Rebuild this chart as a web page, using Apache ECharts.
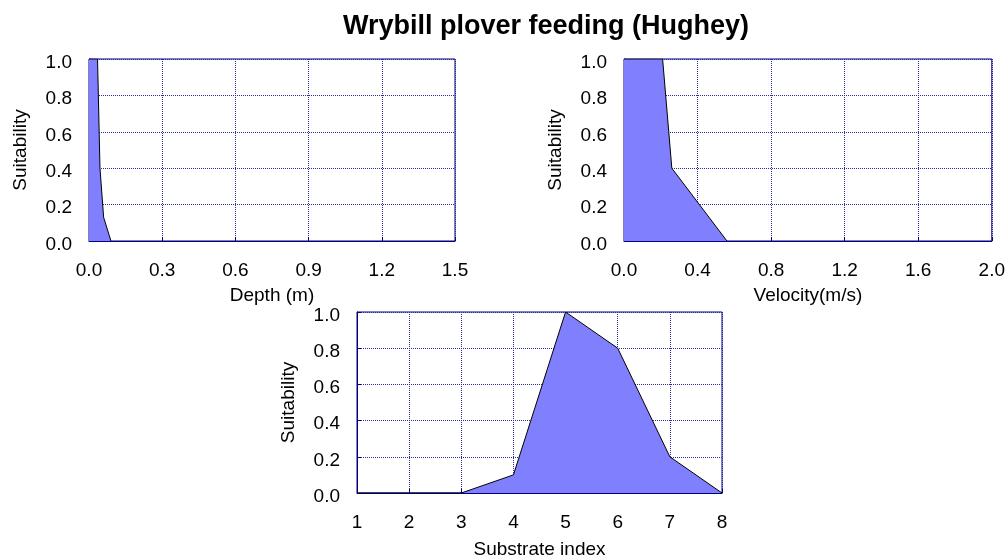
<!DOCTYPE html>
<html>
<head>
<meta charset="utf-8">
<script src="https://cdn.jsdelivr.net/npm/echarts@6/dist/echarts.min.js"></script>
<style>
html,body{margin:0;padding:0;background:#fff;}
#c{width:1008px;height:560px;}
</style>
</head>
<body>
<div id="c"></div>
<script>
// Data
const titleText = 'Wrybill plover feeding (Hughey)';
const depthX = [0, 0.035, 0.045, 0.06, 0.09];
const depthY = [1.0, 1.0, 0.4, 0.13, 0.0];
const velX = [0, 0.21, 0.26, 0.56];
const velY = [1.0, 1.0, 0.4, 0.0];
const subX = [1, 2, 3, 4, 5, 6, 7, 8];
const subY = [0, 0, 0, 0.1, 1.0, 0.8, 0.2, 0];
const axisNames = ['Depth (m)', 'Velocity(m/s)', 'Substrate index'];
const yName = 'Suitability';

const navy = '#000080';
const gridColor = '#2a2aa6';
const font = 'Liberation Sans, Arial, sans-serif';
const fs = 19;

function pairs(xs, ys) { return xs.map((x, i) => [x, ys[i]]); }

const grids = [
  {left: 89, top: 59, width: 366, height: 182},
  {left: 624, top: 59, width: 368, height: 182},
  {left: 357, top: 312, width: 365, height: 181}
];
const xRanges = [[0, 1.5, 0.3, 1], [0, 2.0, 0.4, 1], [1, 8, 1, 0]];
const nameGaps = [45, 45, 47];

function xAxis(i) {
  return {
    type: 'value', gridIndex: i,
    min: xRanges[i][0], max: xRanges[i][1], interval: xRanges[i][2],
    name: axisNames[i], nameLocation: 'middle', nameGap: nameGaps[i],
    nameTextStyle: {fontFamily: font, fontSize: fs, color: '#000'},
    axisLine: {lineStyle: {color: navy, width: 1}},
    axisTick: {inside: true, length: 4, lineStyle: {color: navy}},
    axisLabel: {fontFamily: font, fontSize: fs, color: '#000', margin: 20,
      formatter: v => v.toFixed(xRanges[i][3])},
    splitLine: {show: true, lineStyle: {color: gridColor, type: [1, 1], width: 1}}
  };
}
function yAxis(i) {
  return {
    type: 'value', gridIndex: i, min: 0, max: 1, interval: 0.2,
    name: yName, nameLocation: 'middle', nameGap: 59,
    nameTextStyle: {fontFamily: font, fontSize: fs, color: '#000'},
    axisLine: {show: true, lineStyle: {color: navy, width: 1}},
    axisTick: {show: true, inside: true, length: 4, lineStyle: {color: navy}},
    axisLabel: {fontFamily: font, fontSize: fs, color: '#000', margin: 17,
      verticalAlign: 'top', lineHeight: 7,
      formatter: v => v.toFixed(1)},
    splitLine: {show: true, lineStyle: {color: gridColor, type: [1, 1], width: 1}}
  };
}
function series(i, data) {
  return {
    type: 'line', xAxisIndex: i, yAxisIndex: i, data: data,
    showSymbol: false, symbol: 'none', animation: false,
    lineStyle: {color: '#000', width: 1},
    areaStyle: {color: '#8080ff', opacity: 1}
  };
}

const chart = echarts.init(document.getElementById('c'), null, {renderer: 'canvas'});
chart.setOption({
  animation: false,
  backgroundColor: '#fff',
  title: {
    text: titleText, left: 541, top: 8, textAlign: 'center',
    textStyle: {fontFamily: font, fontSize: 27, fontWeight: 'bold', color: '#000'}
  },
  grid: grids.map(g => Object.assign({show: true, borderColor: navy, borderWidth: 1, backgroundColor: '#fff'}, g)),
  xAxis: [xAxis(0), xAxis(1), xAxis(2)],
  yAxis: [yAxis(0), yAxis(1), yAxis(2)],
  series: [
    series(0, pairs(depthX, depthY)),
    series(1, pairs(velX, velY)),
    series(2, pairs(subX, subY))
  ]
});
</script>
</body>
</html>
